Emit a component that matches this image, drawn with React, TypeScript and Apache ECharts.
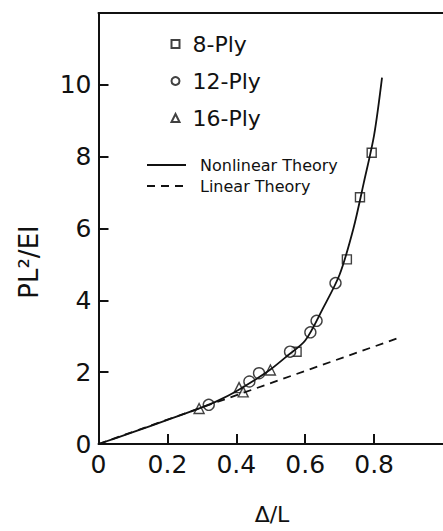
import React, { useEffect, useRef } from "react";
import * as echarts from "echarts";

// Experimental data (Δ/L, PL²/EI)
const ply8: number[][] = [
  [0.575, 2.57],
  [0.721, 5.14],
  [0.759, 6.87],
  [0.793, 8.11],
];
const ply12: number[][] = [
  [0.32, 1.09],
  [0.438, 1.74],
  [0.466, 1.97],
  [0.556, 2.57],
  [0.615, 3.11],
  [0.633, 3.43],
  [0.688, 4.48],
];
const ply16: number[][] = [
  [0.292, 0.99],
  [0.408, 1.57],
  [0.42, 1.45],
  [0.499, 2.06],
];

// Theory curves
const nonlinearX = [0, 0.1, 0.2, 0.3, 0.35, 0.4, 0.45, 0.5, 0.55, 0.6, 0.65, 0.7, 0.74, 0.77, 0.8, 0.823];
const nonlinearY = [0, 0.33, 0.67, 1.02, 1.22, 1.47, 1.76, 2.08, 2.47, 2.88, 3.75, 4.72, 6.0, 7.27, 8.6, 10.2];
const linearX = [0, 0.87];
const linearY = [0, 2.95];

const seriesNames = ["8-Ply", "12-Ply", "16-Ply"];
const theoryNames = ["Nonlinear Theory", "Linear Theory"];

const FONT = "DejaVu Sans";
const INK = "#111";

export default function App() {
  const ref = useRef<HTMLDivElement>(null);

  useEffect(() => {
    if (!ref.current) return;
    const chart = echarts.init(ref.current, undefined, { renderer: "svg" });
    const zip = (xs: number[], ys: number[]) => xs.map((x, i) => [x, ys[i]]);
    const markerStyle = { color: "#fff", borderColor: INK, borderWidth: 1.4 };

    chart.setOption({
      animation: false,
      backgroundColor: "#fff",
      grid: { left: 98.5, right: -9, top: 13, bottom: 87, containLabel: false },
      xAxis: [
        {
          type: "value",
          min: 0,
          max: 1,
          interval: 0.2,
          splitLine: { show: false },
          axisLine: { lineStyle: { color: INK, width: 2 } },
          axisTick: { inside: true, length: 10, lineStyle: { color: INK, width: 2 } },
          axisLabel: {
            color: INK,
            fontFamily: FONT,
            fontSize: 25,
            margin: 8,
            showMaxLabel: false,
          },
        },
        {
          type: "value",
          position: "top",
          min: 0,
          max: 1,
          splitLine: { show: false },
          axisLine: { show: true, lineStyle: { color: INK, width: 2 } },
          axisTick: { show: false },
          axisLabel: { show: false },
        },
      ],
      yAxis: {
        type: "value",
        min: 0,
        max: 12,
        interval: 2,
        splitLine: { show: false },
        axisLine: { show: true, lineStyle: { color: INK, width: 2 } },
        axisTick: { show: true, inside: true, length: 10, lineStyle: { color: INK, width: 2 } },
        axisLabel: {
          color: INK,
          fontFamily: FONT,
          fontSize: 25,
          margin: 7,
          showMaxLabel: false,
        },
      },
      legend: [
        {
          data: seriesNames,
          orient: "vertical",
          left: 165.5,
          top: 26,
          itemWidth: 8,
          itemHeight: 8,
          itemGap: 11,
          selectedMode: false,
          textStyle: {
            color: INK,
            fontFamily: FONT,
            fontSize: 22,
            lineHeight: 26,
            padding: [0, 0, 0, 8],
          },
        },
        {
          data: theoryNames,
          orient: "vertical",
          left: 141,
          top: 150,
          itemWidth: 39,
          itemHeight: 10,
          itemGap: 1,
          selectedMode: false,
          itemStyle: { color: "transparent", borderWidth: 0, opacity: 0 },
          textStyle: {
            color: INK,
            fontFamily: FONT,
            fontSize: 16,
            lineHeight: 20,
            padding: [0, 0, 0, 9],
          },
        },
      ],
      graphic: [
        {
          type: "text",
          x: 29,
          y: 262,
          rotation: Math.PI / 2,
          style: {
            text: "PL²/EI",
            fontFamily: FONT,
            fontSize: 26,
            fill: INK,
            align: "center",
            verticalAlign: "middle",
          },
        },
        {
          type: "text",
          x: 272,
          y: 514,
          style: {
            text: "Δ/L",
            fontFamily: FONT,
            fontSize: 22,
            fill: INK,
            align: "center",
            verticalAlign: "middle",
          },
        },
      ],
      series: [
        {
          name: "Nonlinear Theory",
          type: "line",
          data: zip(nonlinearX, nonlinearY),
          smooth: 0.3,
          showSymbol: false,
          symbol: "none",
          lineStyle: { color: INK, width: 1.8 },
          itemStyle: { color: INK },
        },
        {
          name: "Linear Theory",
          type: "line",
          data: zip(linearX, linearY),
          showSymbol: false,
          symbol: "none",
          lineStyle: { color: INK, width: 1.8, type: [8, 6] },
          itemStyle: { color: INK },
        },
        {
          name: "8-Ply",
          type: "scatter",
          data: ply8,
          symbol: "rect",
          symbolSize: 9,
          itemStyle: markerStyle,
        },
        {
          name: "12-Ply",
          type: "scatter",
          data: ply12,
          symbol: "circle",
          symbolSize: 11,
          itemStyle: markerStyle,
        },
        {
          name: "16-Ply",
          type: "scatter",
          data: ply16,
          symbol: "triangle",
          symbolSize: 10,
          itemStyle: markerStyle,
        },
      ],
    });
    return () => chart.dispose();
  }, []);

  return (
    <div
      ref={ref}
      style={{ position: "fixed", left: 0, top: 0, width: 443, height: 531, background: "#fff" }}
    />
  );
}
